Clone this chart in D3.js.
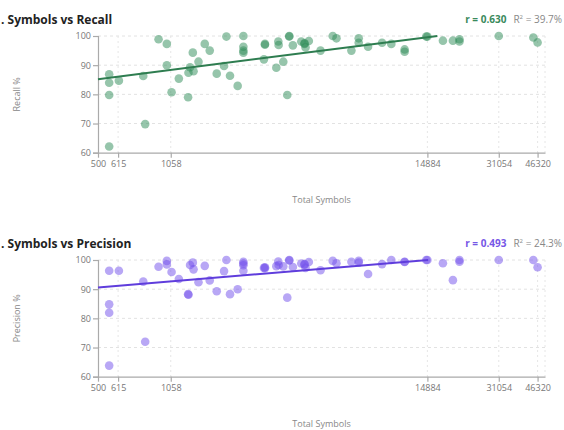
<!DOCTYPE html>
<html>
<head>
<meta charset="utf-8">
<script src="https://cdn.jsdelivr.net/npm/d3@7"></script>
<style>
  body { margin: 0; background: #fff; }
  text { font-family: "Open Sans", "Noto Sans", sans-serif; }
</style>
</head>
<body>
<script>
// data: one row per item, same x in both panels
var symbols   = [561,561,561,561,620,797,813,933,1016,1016,1067,1150,1265,1270,1291,1328,1338,1408,1502,1581,1699,1832,1877,1948,2108,2236,2236,2236,2236,2763,2792,2792,3139,3204,3215,3373,3514,3587,3587,3723,4060,4198,4198,4242,4388,4950,5615,5834,6805,7336,7336,8079,9331,10265,11774,11774,14713,14884,17468,19360,20720,20720,31054,44330,46320];
var recall    = [86.9,84.0,79.8,62.1,84.7,86.3,69.8,98.9,97.3,90.0,80.7,85.4,79.0,87.4,89.3,94.3,87.9,91.2,97.3,95.0,87.1,89.7,99.8,86.4,82.9,100,96.3,95.0,94.3,92.0,97.3,97.0,89.1,98.1,96.9,91.2,79.8,99.8,100,96.8,98.1,97.5,97.3,96.1,98.3,95.0,100,99.2,95.0,99.2,97.7,96.3,97.7,97.3,95.4,94.6,99.8,99.8,98.4,98.4,98.9,98.1,100,99.5,97.8];
var precision = [96.3,84.8,81.9,63.8,96.3,92.6,72.0,97.7,99.7,98.5,95.9,93.5,88.3,88.1,98.3,99.1,96.8,92.4,98.0,93.0,89.3,96.2,100,88.3,90.0,99.4,98.8,98.2,96.3,97.3,97.5,97.2,97.9,99.5,98.3,97.8,87.1,100,99.8,97.6,98.8,98.4,98.6,97.3,99.3,96.5,99.7,98.9,99.4,99.7,99.1,95.2,98.6,100,99.4,99.3,100,100,98.9,93.1,100,99.4,100,100,97.5];

var xTicks = [500, 615, 1058, 14884, 31054, 46320];
var yTicks = [60, 70, 80, 90, 100];

// fitted line ends (drawn up to where it reaches 100)
var recallTrend    = [[500, 85.2], [16500, 100]];
var precisionTrend = [[500, 90.6], [15000, 100]];

var panels = [
  {title: ". Symbols vs Recall", yLabel: "Recall %", values: recall, trend: recallTrend,
   r: "0.630", r2: "39.7%", dot: "#2e8b57", line: "#2e7d50", rColor: "#3a8a5c", top: 0},
  {title: ". Symbols vs Precision", yLabel: "Precision %", values: precision, trend: precisionTrend,
   r: "0.493", r2: "24.3%", dot: "#7150ec", line: "#5f3ddc", rColor: "#7657e6", top: 224}
];

var width = 564, height = 430;
var plot = {left: 98, right: 545, top: 36, bottom: 152.7};

var svg = d3.select("body").append("svg")
  .attr("width", width)
  .attr("height", height);

var x = d3.scaleLog()
  .domain([500, 50000])
  .range([plot.left, plot.right]);

var y = d3.scaleLinear()
  .domain([60, 100])
  .range([plot.bottom, plot.top]);

panels.forEach(function(p){
  var g = svg.append("g").attr("transform", "translate(0," + p.top + ")");

  // title and stats
  g.append("text")
    .attr("x", 1).attr("y", 24)
    .attr("font-size", 12).attr("font-weight", "bold").attr("fill", "#222")
    .text(p.title);

  var st = g.append("text")
    .attr("x", 562).attr("y", 23)
    .attr("text-anchor", "end").attr("font-size", 10);
  st.append("tspan").attr("font-weight", "bold").attr("fill", p.rColor).text("r = " + p.r);
  st.append("tspan").attr("fill", "#888").attr("dx", 7).text("R");
  st.append("tspan").attr("fill", "#888").attr("font-size", 6).attr("dy", -4).text("2");
  st.append("tspan").attr("fill", "#888").attr("dy", 4).text(" = " + p.r2);

  // grid
  g.selectAll(".hgrid")
    .data(yTicks.slice(1))
    .enter().append("line")
    .attr("x1", plot.left).attr("x2", plot.right)
    .attr("y1", function(d){return y(d);}).attr("y2", function(d){return y(d);})
    .attr("stroke", "#e2e2e2").attr("stroke-dasharray", "3,3");

  g.selectAll(".vgrid")
    .data(xTicks.slice(1).concat([50000]))
    .enter().append("line")
    .attr("x1", function(d){return x(d);}).attr("x2", function(d){return x(d);})
    .attr("y1", plot.top).attr("y2", plot.bottom)
    .attr("stroke", "#e6e6e6").attr("stroke-dasharray", "2,3");

  // axes
  var xAxis = g.append("g")
    .attr("transform", "translate(0," + plot.bottom + ")")
    .call(d3.axisBottom(x).tickValues(xTicks).tickFormat(d3.format("d"))
      .tickSize(5).tickSizeOuter(0).tickPadding(3));

  var yAxis = g.append("g")
    .attr("transform", "translate(" + plot.left + ",0)")
    .call(d3.axisLeft(y).tickValues(yTicks).tickSize(5).tickPadding(2));

  [xAxis, yAxis].forEach(function(a){
    a.selectAll("path, line").attr("stroke", "#aaa").attr("stroke-width", 1.2);
    a.selectAll("text").attr("fill", "#777").attr("font-size", 9)
      .attr("font-family", "'Open Sans', 'Noto Sans', sans-serif");
  });

  // axis titles
  g.append("text")
    .attr("x", (plot.left + plot.right) / 2).attr("y", 203)
    .attr("text-anchor", "middle").attr("font-size", 9).attr("fill", "#888")
    .text("Total Symbols");

  g.append("text")
    .attr("transform", "translate(20," + ((plot.top + plot.bottom) / 2) + ") rotate(-90)")
    .attr("text-anchor", "middle").attr("font-size", 9).attr("fill", "#888")
    .text(p.yLabel);

  // points
  g.selectAll(".dot")
    .data(symbols)
    .enter().append("circle")
    .attr("cx", function(d){return x(d);})
    .attr("cy", function(d, i){return y(p.values[i]);})
    .attr("r", 4.3)
    .attr("fill", p.dot)
    .attr("fill-opacity", 0.5);

  // trend line
  g.append("path")
    .datum(p.trend)
    .attr("fill", "none")
    .attr("stroke", p.line)
    .attr("stroke-width", 2)
    .attr("d", d3.line()
      .x(function(d){return x(d[0]);})
      .y(function(d){return y(d[1]);}));
});
</script>
</body>
</html>
